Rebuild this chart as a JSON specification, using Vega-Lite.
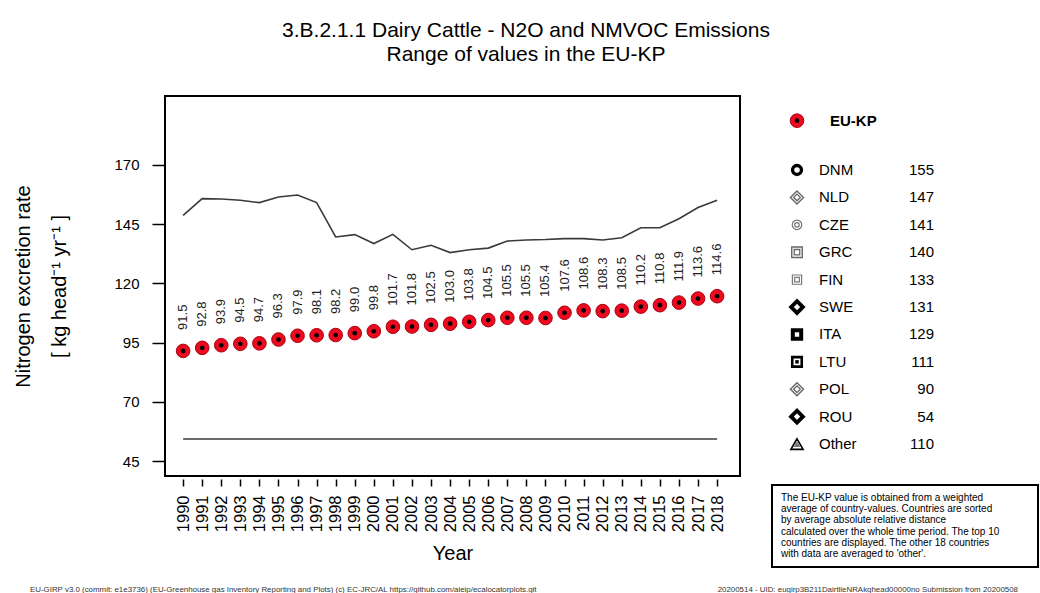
{
  "$schema": "https://vega.github.io/schema/vega-lite/v6.json",
  "padding": {"left": 12, "top": 19, "right": 0, "bottom": 0},
  "background": "white",
  "title": {
    "text": ["3.B.2.1.1 Dairy Cattle - N2O and NMVOC Emissions", "Range of values in the EU-KP"],
    "fontSize": 21, "fontWeight": "normal", "anchor": "middle", "lineHeight": 24.5, "offset": 30, "color": "black"
  },
  "config": {
    "font": "Liberation Sans",
    "view": {"stroke": null},
    "axis": {"labelColor": "black", "titleColor": "black", "tickColor": "black", "grid": false}
  },
  "datasets": {
    "series": [
      {"year": 1990, "eu": 91.5, "max": 148.7, "min": 54.3},
      {"year": 1991, "eu": 92.8, "max": 155.8, "min": 54.3},
      {"year": 1992, "eu": 93.9, "max": 155.6, "min": 54.3},
      {"year": 1993, "eu": 94.5, "max": 155.1, "min": 54.3},
      {"year": 1994, "eu": 94.7, "max": 154.1, "min": 54.3},
      {"year": 1995, "eu": 96.3, "max": 156.5, "min": 54.3},
      {"year": 1996, "eu": 97.9, "max": 157.3, "min": 54.3},
      {"year": 1997, "eu": 98.1, "max": 154.1, "min": 54.3},
      {"year": 1998, "eu": 98.2, "max": 139.6, "min": 54.3},
      {"year": 1999, "eu": 99.0, "max": 140.6, "min": 54.3},
      {"year": 2000, "eu": 99.8, "max": 136.8, "min": 54.3},
      {"year": 2001, "eu": 101.7, "max": 140.7, "min": 54.3},
      {"year": 2002, "eu": 101.8, "max": 134.2, "min": 54.3},
      {"year": 2003, "eu": 102.5, "max": 136.1, "min": 54.3},
      {"year": 2004, "eu": 103.0, "max": 133.0, "min": 54.3},
      {"year": 2005, "eu": 103.8, "max": 134.2, "min": 54.3},
      {"year": 2006, "eu": 104.5, "max": 134.9, "min": 54.3},
      {"year": 2007, "eu": 105.5, "max": 137.9, "min": 54.3},
      {"year": 2008, "eu": 105.5, "max": 138.3, "min": 54.3},
      {"year": 2009, "eu": 105.4, "max": 138.5, "min": 54.3},
      {"year": 2010, "eu": 107.6, "max": 138.9, "min": 54.3},
      {"year": 2011, "eu": 108.6, "max": 138.9, "min": 54.3},
      {"year": 2012, "eu": 108.3, "max": 138.3, "min": 54.3},
      {"year": 2013, "eu": 108.5, "max": 139.3, "min": 54.3},
      {"year": 2014, "eu": 110.2, "max": 143.5, "min": 54.3},
      {"year": 2015, "eu": 110.8, "max": 143.5, "min": 54.3},
      {"year": 2016, "eu": 111.9, "max": 147.3, "min": 54.3},
      {"year": 2017, "eu": 113.6, "max": 152.0, "min": 54.3},
      {"year": 2018, "eu": 114.6, "max": 155.1, "min": 54.3}
    ],
    "legend": [
      {"name": "DNM", "value": 155, "rank": 2},
      {"name": "NLD", "value": 147, "rank": 3},
      {"name": "CZE", "value": 141, "rank": 4},
      {"name": "GRC", "value": 140, "rank": 5},
      {"name": "FIN", "value": 133, "rank": 6},
      {"name": "SWE", "value": 131, "rank": 7},
      {"name": "ITA", "value": 129, "rank": 8},
      {"name": "LTU", "value": 111, "rank": 9},
      {"name": "POL", "value": 90, "rank": 10},
      {"name": "ROU", "value": 54, "rank": 11},
      {"name": "Other", "value": 110, "rank": 12}
    ]
  },
  "vconcat": [
    {
      "hconcat": [
        {
          "width": 575,
          "height": 380,
          "view": {"stroke": "black", "strokeWidth": 2},
          "data": {"name": "series"},
          "encoding": {
            "x": {
              "field": "year", "type": "quantitative",
              "scale": {"domain": [1989.05, 2019.2], "nice": false, "zero": false},
              "axis": {
                "values": [1990,1991,1992,1993,1994,1995,1996,1997,1998,1999,2000,2001,2002,2003,2004,2005,2006,2007,2008,2009,2010,2011,2012,2013,2014,2015,2016,2017,2018],
                "format": "d", "labelAngle": 270, "labelFontSize": 16.5, "labelOverlap": false, "labelFlush": false,
                "tickSize": 7, "tickWidth": 1.5, "domain": false, "offset": 3, "labelPadding": 9,
                "title": "Year", "titleFontSize": 20, "titleFontWeight": "normal", "titlePadding": 12
              }
            },
            "y": {
              "type": "quantitative",
              "scale": {"domain": [38.7, 199.1], "nice": false, "zero": false},
              "axis": {
                "values": [45, 70, 95, 120, 145, 170],
                "labelFontSize": 15, "tickSize": 13, "tickWidth": 1.5, "domain": false, "labelPadding": 13,
                "title": ["Nitrogen excretion rate", "[ kg  head⁻¹  yr⁻¹ ]"],
                "titleFontSize": 20, "titleFontWeight": "normal", "titleLineHeight": 36, "titlePadding": 44
              }
            }
          },
          "layer": [
            {"mark": {"type": "line", "color": "#3a3a3a", "strokeWidth": 1.6}, "encoding": {"y": {"field": "max", "type": "quantitative"}}},
            {"mark": {"type": "line", "color": "#3a3a3a", "strokeWidth": 1.6}, "encoding": {"y": {"field": "min", "type": "quantitative"}}},
            {"mark": {"type": "point", "shape": "circle", "filled": true, "size": 185, "fill": "#ee0a1e", "stroke": "#a8000f", "strokeWidth": 1, "opacity": 1}, "encoding": {"y": {"field": "eu", "type": "quantitative"}}},
            {"mark": {"type": "point", "shape": "circle", "filled": true, "size": 22, "color": "black", "opacity": 1}, "encoding": {"y": {"field": "eu", "type": "quantitative"}}},
            {"mark": {"type": "text", "angle": 270, "align": "left", "baseline": "middle", "dx": 21, "fontSize": 13, "color": "#222"}, "encoding": {"y": {"field": "eu", "type": "quantitative"}, "text": {"field": "eu", "type": "quantitative", "format": ".1f"}}}
          ]
        },
        {
          "vconcat": [
            {
              "width": 266,
              "height": 370,
              "data": {"name": "legend"},
              "encoding": {
                "x": {"type": "quantitative", "scale": {"domain": [0, 266], "nice": false, "zero": false}, "axis": null},
                "y": {"type": "quantitative", "scale": {"domain": [-0.7, 12.8], "nice": false, "zero": false, "reverse": true}, "axis": null}
              },
              "layer": [
                {
                  "data": {"values": [{"name": "EU-KP"}]},
                  "mark": {"type": "point", "shape": "circle", "filled": true, "size": 185, "fill": "#ee0a1e", "stroke": "#a8000f", "strokeWidth": 1, "opacity": 1},
                  "encoding": {"x": {"datum": 25}, "y": {"datum": 0.2}}
                },
                {
                  "data": {"values": [{"name": "EU-KP"}]},
                  "mark": {"type": "point", "shape": "circle", "filled": true, "size": 22, "color": "black", "opacity": 1},
                  "encoding": {"x": {"datum": 25}, "y": {"datum": 0.2}}
                },
                {
                  "data": {"values": [{"name": "EU-KP"}]},
                  "mark": {"type": "text", "align": "left", "baseline": "middle", "fontSize": 15, "fontWeight": "bold", "color": "black"},
                  "encoding": {"x": {"datum": 58}, "y": {"datum": 0.2}, "text": {"field": "name"}}
                },
                {
                  "transform": [{"filter": {"field": "name", "oneOf": ["DNM"]}}],
                  "mark": {"type": "point", "shape": "circle", "filled": false, "size": 80, "strokeWidth": 3.4, "color": "black", "opacity": 1},
                  "encoding": {"x": {"datum": 25}, "y": {"field": "rank"}}
                },
                {
                  "transform": [{"filter": {"field": "name", "oneOf": ["SWE", "ROU"]}}],
                  "mark": {"type": "point", "shape": "diamond", "filled": false, "size": 140, "strokeWidth": 3.8, "color": "black", "opacity": 1},
                  "encoding": {"x": {"datum": 25}, "y": {"field": "rank"}}
                },
                {
                  "transform": [{"filter": {"field": "name", "oneOf": ["ITA"]}}],
                  "mark": {"type": "point", "shape": "square", "filled": false, "size": 70, "strokeWidth": 4, "color": "black", "opacity": 1},
                  "encoding": {"x": {"datum": 25}, "y": {"field": "rank"}}
                },
                {
                  "transform": [{"filter": {"field": "name", "oneOf": ["LTU"]}}],
                  "mark": {"type": "point", "shape": "square", "filled": false, "size": 90, "strokeWidth": 2.6, "color": "black", "opacity": 1},
                  "encoding": {"x": {"datum": 25}, "y": {"field": "rank"}}
                },
                {
                  "transform": [{"filter": {"field": "name", "oneOf": ["LTU"]}}],
                  "mark": {"type": "point", "shape": "square", "filled": true, "size": 12, "color": "black", "opacity": 1},
                  "encoding": {"x": {"datum": 25}, "y": {"field": "rank"}}
                },
                {
                  "transform": [{"filter": {"field": "name", "oneOf": ["NLD", "POL"]}}],
                  "mark": {"type": "point", "shape": "diamond", "filled": false, "size": 170, "strokeWidth": 1.4, "color": "#666666", "opacity": 1},
                  "encoding": {"x": {"datum": 25}, "y": {"field": "rank"}}
                },
                {
                  "transform": [{"filter": {"field": "name", "oneOf": ["NLD", "POL"]}}],
                  "mark": {"type": "point", "shape": "diamond", "filled": false, "size": 45, "strokeWidth": 1.3, "color": "#666666", "opacity": 1},
                  "encoding": {"x": {"datum": 25}, "y": {"field": "rank"}}
                },
                {
                  "transform": [{"filter": {"field": "name", "oneOf": ["CZE"]}}],
                  "mark": {"type": "point", "shape": "circle", "filled": false, "size": 90, "strokeWidth": 1.2, "color": "#777777", "opacity": 1},
                  "encoding": {"x": {"datum": 25}, "y": {"field": "rank"}}
                },
                {
                  "transform": [{"filter": {"field": "name", "oneOf": ["CZE"]}}],
                  "mark": {"type": "point", "shape": "circle", "filled": false, "size": 20, "strokeWidth": 1.2, "color": "#777777", "opacity": 1},
                  "encoding": {"x": {"datum": 25}, "y": {"field": "rank"}}
                },
                {
                  "transform": [{"filter": {"field": "name", "oneOf": ["GRC"]}}],
                  "mark": {"type": "point", "shape": "square", "filled": false, "size": 110, "strokeWidth": 1.4, "color": "#666666", "opacity": 1},
                  "encoding": {"x": {"datum": 25}, "y": {"field": "rank"}}
                },
                {
                  "transform": [{"filter": {"field": "name", "oneOf": ["GRC"]}}],
                  "mark": {"type": "point", "shape": "square", "filled": false, "size": 30, "strokeWidth": 1.3, "color": "#666666", "opacity": 1},
                  "encoding": {"x": {"datum": 25}, "y": {"field": "rank"}}
                },
                {
                  "transform": [{"filter": {"field": "name", "oneOf": ["FIN"]}}],
                  "mark": {"type": "point", "shape": "square", "filled": false, "size": 85, "strokeWidth": 1.2, "color": "#777777", "opacity": 1},
                  "encoding": {"x": {"datum": 25}, "y": {"field": "rank"}}
                },
                {
                  "transform": [{"filter": {"field": "name", "oneOf": ["FIN"]}}],
                  "mark": {"type": "point", "shape": "square", "filled": false, "size": 22, "strokeWidth": 1.2, "color": "#777777", "opacity": 1},
                  "encoding": {"x": {"datum": 25}, "y": {"field": "rank"}}
                },
                {
                  "transform": [{"filter": {"field": "name", "oneOf": ["Other"]}}],
                  "mark": {"type": "point", "shape": "triangle-up", "filled": false, "size": 150, "strokeWidth": 1.6, "color": "black", "opacity": 1},
                  "encoding": {"x": {"datum": 25}, "y": {"field": "rank"}}
                },
                {
                  "transform": [{"filter": {"field": "name", "oneOf": ["Other"]}}],
                  "mark": {"type": "point", "shape": "triangle-up", "filled": true, "size": 45, "color": "#777777", "opacity": 1},
                  "encoding": {"x": {"datum": 25}, "y": {"field": "rank"}}
                },
                {
                  "mark": {"type": "text", "align": "left", "baseline": "middle", "fontSize": 15, "color": "black"},
                  "encoding": {"x": {"datum": 47}, "y": {"field": "rank"}, "text": {"field": "name"}}
                },
                {
                  "mark": {"type": "text", "align": "right", "baseline": "middle", "fontSize": 15, "color": "black"},
                  "encoding": {"x": {"datum": 162}, "y": {"field": "rank"}, "text": {"field": "value"}}
                }
              ]
            },
            {
              "width": 266,
              "height": 82,
              "view": {"stroke": "black", "strokeWidth": 2},
              "data": {"values": [{"note": "The EU-KP value is obtained from a weighted\naverage of country-values. Countries are sorted\nby average absolute relative distance\ncalculated over the whole time period. The top 10\ncountries are displayed. The other 18 countries\nwith data are averaged to 'other'."}]},
              "mark": {"type": "text", "align": "left", "baseline": "top", "fontSize": 10, "lineHeight": 11.2, "lineBreak": "\n", "color": "black"},
              "encoding": {
                "x": {"datum": 9, "type": "quantitative", "scale": {"domain": [0, 266], "nice": false, "zero": false}, "axis": null},
                "y": {"datum": 8, "type": "quantitative", "scale": {"domain": [82, 0], "nice": false, "zero": false}, "axis": null},
                "text": {"field": "note"}
              }
            }
          ],
          "spacing": 18
        }
      ],
      "spacing": 30
    },
    {
      "width": 870,
      "height": 8,
      "layer": [
        {
          "data": {"values": [{"t": "EU-GIRP v3.0 (commit: e1e3736) (EU-Greenhouse gas Inventory Reporting and Plots) (c) EC-JRC/AL https://github.com/aleip/ecalocatorplots.git"}]},
          "mark": {"type": "text", "align": "left", "baseline": "middle", "fontSize": 7.9, "color": "#333"},
          "encoding": {"x": {"datum": -135, "type": "quantitative", "scale": {"domain": [0, 870], "nice": false, "zero": false}, "axis": null}, "y": {"datum": 4, "type": "quantitative", "scale": {"domain": [8, 0], "nice": false, "zero": false}, "axis": null}, "text": {"field": "t"}}
        },
        {
          "data": {"values": [{"t": "20200514 - UID: eugirp3B211DairtlleNRAkghead00000no   Submission from 20200508"}]},
          "mark": {"type": "text", "align": "right", "baseline": "middle", "fontSize": 7.9, "color": "#333"},
          "encoding": {"x": {"datum": 853, "type": "quantitative"}, "y": {"datum": 4, "type": "quantitative"}, "text": {"field": "t"}}
        }
      ]
    }
  ],
  "spacing": 18
}
